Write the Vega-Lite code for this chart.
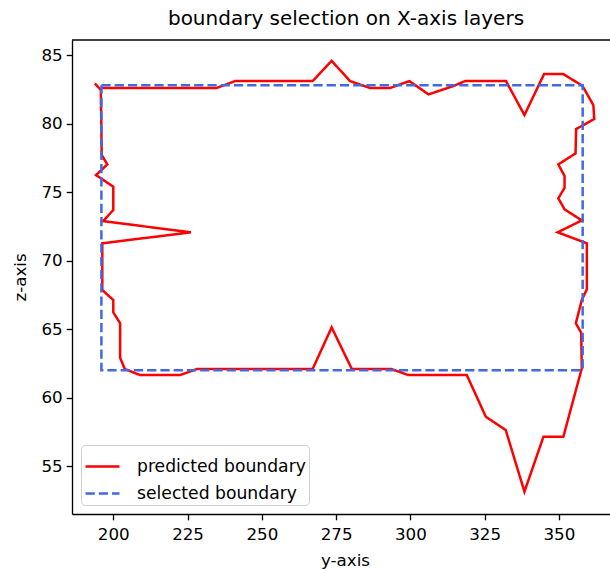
{
  "$schema": "https://vega.github.io/schema/vega-lite/v6.json",
  "autosize": "none",
  "padding": {"left": 72, "top": 40, "right": 0, "bottom": 56},
  "width": 538,
  "height": 474,
  "background": "white",
  "config": {
    "view": {"stroke": null},
    "font": "DejaVu Sans",
    "axis": {"grid": false, "domainColor": "black", "domainWidth": 1.33, "tickColor": "black", "tickWidth": 1.33, "tickSize": 5.8, "labelColor": "black", "labelFontSize": 16.7, "labelFont": "DejaVu Sans", "titleFont": "DejaVu Sans", "titleFontSize": 16.7, "titleFontWeight": "normal", "titleColor": "black"}
  },
  "title": {"text": "boundary selection on X-axis layers", "font": "DejaVu Sans", "fontSize": 20, "fontWeight": "normal", "color": "black", "offset": 10, "dx": 5},
  "datasets": {
    "pred": [
      {"i": 1, "y": 196.1, "z": 82.6},
      {"i": 2, "y": 234.8, "z": 82.6},
      {"i": 3, "y": 241.0, "z": 83.1},
      {"i": 4, "y": 267.1, "z": 83.1},
      {"i": 5, "y": 273.5, "z": 84.58},
      {"i": 6, "y": 279.7, "z": 83.1},
      {"i": 7, "y": 286.4, "z": 82.6},
      {"i": 8, "y": 293.2, "z": 82.6},
      {"i": 9, "y": 299.7, "z": 83.1},
      {"i": 10, "y": 306.1, "z": 82.13},
      {"i": 11, "y": 314.5, "z": 82.74},
      {"i": 12, "y": 318.4, "z": 83.1},
      {"i": 13, "y": 332.2, "z": 83.1},
      {"i": 14, "y": 338.4, "z": 80.62},
      {"i": 15, "y": 345.0, "z": 83.61},
      {"i": 16, "y": 351.5, "z": 83.61},
      {"i": 17, "y": 357.9, "z": 82.76},
      {"i": 18, "y": 361.6, "z": 81.35},
      {"i": 19, "y": 361.9, "z": 80.33},
      {"i": 20, "y": 355.8, "z": 79.6},
      {"i": 21, "y": 355.6, "z": 77.82},
      {"i": 22, "y": 349.8, "z": 77.02},
      {"i": 23, "y": 351.9, "z": 76.17},
      {"i": 24, "y": 351.9, "z": 75.31},
      {"i": 25, "y": 349.8, "z": 74.54},
      {"i": 26, "y": 351.9, "z": 73.74},
      {"i": 27, "y": 357.7, "z": 72.93},
      {"i": 28, "y": 349.6, "z": 72.06},
      {"i": 29, "y": 359.4, "z": 71.26},
      {"i": 30, "y": 359.4, "z": 67.9},
      {"i": 31, "y": 357.7, "z": 67.12},
      {"i": 32, "y": 355.7, "z": 65.42},
      {"i": 33, "y": 357.5, "z": 64.73},
      {"i": 34, "y": 357.7, "z": 62.13},
      {"i": 35, "y": 351.5, "z": 57.14},
      {"i": 36, "y": 344.8, "z": 57.14},
      {"i": 37, "y": 338.4, "z": 53.13},
      {"i": 38, "y": 332.1, "z": 57.63},
      {"i": 39, "y": 325.4, "z": 58.6},
      {"i": 40, "y": 319.0, "z": 61.64},
      {"i": 41, "y": 299.3, "z": 61.64},
      {"i": 42, "y": 293.7, "z": 62.08},
      {"i": 43, "y": 280.3, "z": 62.08},
      {"i": 44, "y": 273.5, "z": 65.12},
      {"i": 45, "y": 267.1, "z": 62.08},
      {"i": 46, "y": 228.1, "z": 62.08},
      {"i": 47, "y": 222.5, "z": 61.64},
      {"i": 48, "y": 209.0, "z": 61.64},
      {"i": 49, "y": 203.9, "z": 62.08},
      {"i": 50, "y": 202.3, "z": 62.9},
      {"i": 51, "y": 202.3, "z": 65.42},
      {"i": 52, "y": 200.0, "z": 66.22},
      {"i": 53, "y": 200.0, "z": 67.12},
      {"i": 54, "y": 196.3, "z": 67.85},
      {"i": 55, "y": 196.3, "z": 71.26},
      {"i": 56, "y": 226.1, "z": 72.06},
      {"i": 57, "y": 196.6, "z": 72.88},
      {"i": 58, "y": 200.0, "z": 73.69},
      {"i": 59, "y": 200.0, "z": 75.39},
      {"i": 60, "y": 194.2, "z": 76.24},
      {"i": 61, "y": 198.0, "z": 77.02},
      {"i": 62, "y": 196.1, "z": 77.7},
      {"i": 63, "y": 195.8, "z": 82.45},
      {"i": 64, "y": 193.8, "z": 82.93}
    ],
    "sel": [
      {"i": 1, "y": 196, "z": 82.8},
      {"i": 2, "y": 358, "z": 82.8},
      {"i": 3, "y": 358, "z": 62},
      {"i": 4, "y": 196, "z": 62},
      {"i": 5, "y": 196, "z": 82.8}
    ],
    "frame": [{"top": 86.1}]
  },
  "layer": [
    {
      "data": {"name": "pred"},
      "transform": [{"calculate": "'predicted boundary'", "as": "series"}],
      "mark": {"type": "line", "strokeWidth": 2.5, "clip": true},
      "encoding": {
        "x": {"field": "y", "type": "quantitative", "scale": {"domain": [186.1, 367.2], "nice": false, "zero": false}, "axis": {"values": [200, 225, 250, 275, 300, 325, 350], "title": "y-axis", "labelPadding": 7, "titlePadding": 9, "titleX": 273}},
        "y": {"field": "z", "type": "quantitative", "scale": {"domain": [51.5, 86.1], "nice": false, "zero": false}, "axis": {"values": [55, 60, 65, 70, 75, 80, 85], "title": "z-axis", "labelPadding": 4, "titlePadding": 11}},
        "order": {"field": "i"},
        "color": {"field": "series", "type": "nominal", "scale": {"domain": ["predicted boundary", "selected boundary"], "range": ["#ff0000", "#4169e1"]}, "legend": {"title": null, "orient": "bottom-left", "offset": 9, "symbolType": "stroke", "symbolSize": 1156, "symbolStrokeWidth": 2.5, "labelFontSize": 17.2, "labelColor": "black", "labelFont": "DejaVu Sans", "labelLimit": 0, "fillColor": "white", "strokeColor": "#d0d0d0", "cornerRadius": 4, "padding": 3, "rowPadding": -7, "labelOffset": 16}},
        "strokeDash": {"field": "series", "type": "nominal", "scale": {"domain": ["predicted boundary", "selected boundary"], "range": [[1, 0], [9.25, 4]]}, "legend": null}
      }
    },
    {
      "data": {"name": "sel"},
      "transform": [{"calculate": "'selected boundary'", "as": "series"}],
      "mark": {"type": "line", "strokeWidth": 2.5, "clip": true},
      "encoding": {
        "x": {"field": "y", "type": "quantitative"},
        "y": {"field": "z", "type": "quantitative"},
        "order": {"field": "i"},
        "color": {"field": "series", "type": "nominal"},
        "strokeDash": {"field": "series", "type": "nominal"}
      }
    },
    {
      "data": {"name": "frame"},
      "mark": {"type": "rule", "color": "black", "strokeWidth": 1.33},
      "encoding": {"y": {"field": "top", "type": "quantitative"}}
    }
  ]
}
